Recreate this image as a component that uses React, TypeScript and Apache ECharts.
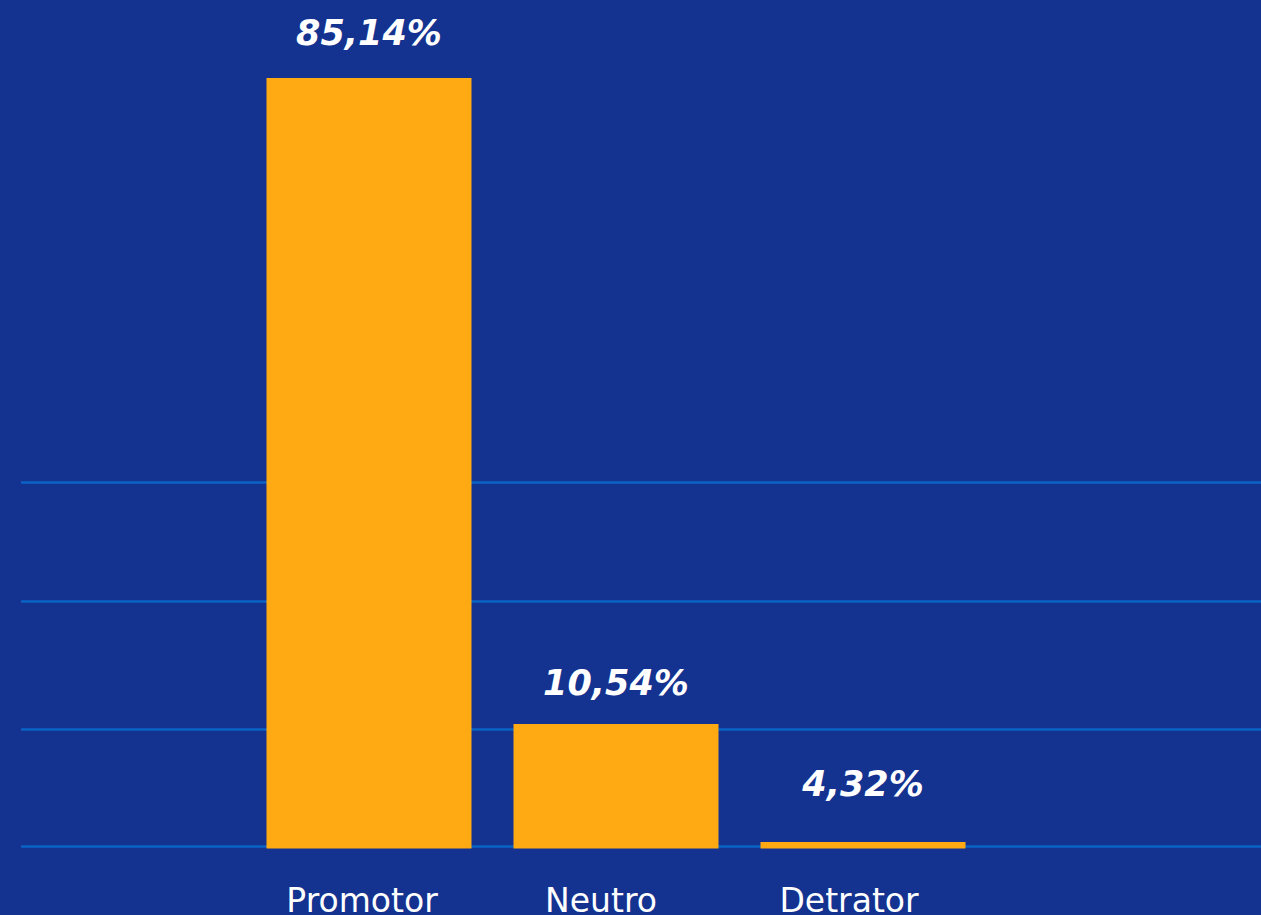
import React, { useEffect, useRef } from "react";
import * as echarts from "echarts";

// Categories as shown under the bars
const categories = ["Promotor", "Neutro", "Detrator"];
// Bar heights as drawn in the reference (axis units, Promotor bar = 85.14)
const barHeights = [85.14, 13.76, 0.72];
// Value labels printed above the bars
const barLabels = ["85,14%", "10,54%", "4,32%"];
// Horizontal guide lines as drawn in the reference (same axis units)
const guideLines = [0.28, 13.17, 27.27, 40.5];
// Axis range
const axisMin = 0;
const axisMax = 90;

const FONT = "DejaVu Sans";

export default function App() {
  const ref = useRef<HTMLDivElement>(null);

  useEffect(() => {
    if (!ref.current) return;
    const chart = echarts.init(ref.current, undefined, { renderer: "svg" });
    const labelDistances = [27, 23, 40];
    const catShift = [14, 30, 28];
    chart.setOption({
      animation: false,
      backgroundColor: "#143290",
      grid: [
        { left: 245.5, right: 274.5, top: 34, bottom: 66.5, outerBoundsMode: "none", containLabel: false },
        { left: 21, right: 0, top: 34, bottom: 66.5, outerBoundsMode: "none", containLabel: false },
      ],
      xAxis: [
        {
          type: "category",
          gridIndex: 0,
          data: categories.map((c, i) => ({
            value: c,
            textStyle: { padding: [0, catShift[i], 0, 0] },
          })),
          axisLine: { show: false },
          axisTick: { show: false },
          axisLabel: {
            color: "#ffffff",
            fontFamily: FONT,
            fontSize: 33,
            lineHeight: 28,
            margin: 38,
          },
        },
        { type: "value", gridIndex: 1, show: false, min: 0, max: 1 },
      ],
      yAxis: [
        {
          type: "value",
          gridIndex: 0,
          min: axisMin,
          max: axisMax,
          show: false,
          splitLine: { show: false },
        },
        {
          type: "value",
          gridIndex: 1,
          min: axisMin,
          max: axisMax,
          show: false,
          splitLine: { show: false },
        },
      ],
      series: [
        {
          type: "line",
          xAxisIndex: 1,
          yAxisIndex: 1,
          data: [],
          z: 1,
          silent: true,
          markLine: {
            silent: true,
            symbol: "none",
            label: { show: false },
            lineStyle: { color: "#0A63C6", width: 2.5, type: "solid" },
            data: guideLines.map((v) => ({ yAxis: v })),
          },
        },
        {
          type: "bar",
          xAxisIndex: 0,
          yAxisIndex: 0,
          z: 5,
          barWidth: 205,
          itemStyle: { color: "#FFA913" },
          data: barHeights.map((v, i) => ({
            value: v,
            label: {
              show: true,
              position: "top",
              distance: labelDistances[i],
              formatter: barLabels[i],
              color: "#ffffff",
              fontFamily: FONT,
              fontSize: 35,
              fontWeight: "bold",
              fontStyle: "italic",
            },
          })),
        },
      ],
    });
    return () => chart.dispose();
  }, []);

  return (
    <div
      ref={ref}
      style={{ position: "fixed", left: 0, top: 0, width: 1261, height: 915 }}
    />
  );
}
